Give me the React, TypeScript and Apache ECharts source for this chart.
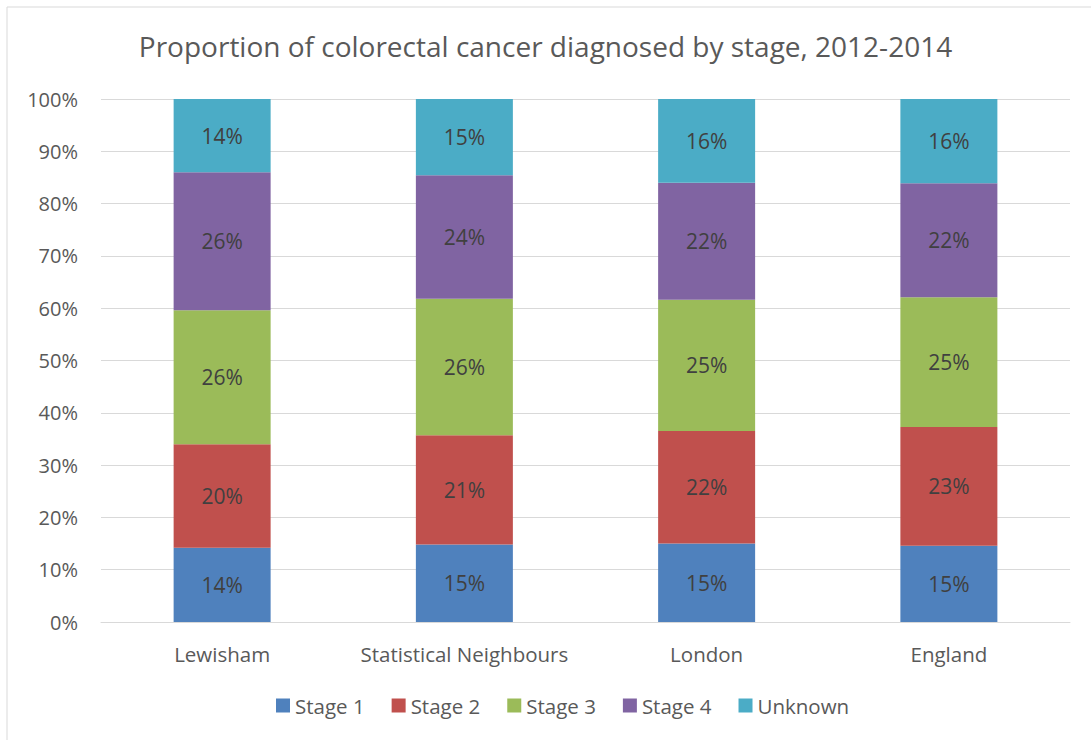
import React, { useEffect, useRef } from "react";
import * as echarts from "echarts";

const categories = ["Lewisham", "Statistical Neighbours", "London", "England"];
const stage1 = [14.2, 14.8, 15.0, 14.6];
const stage2 = [19.8, 20.9, 21.5, 22.7];
const stage3 = [25.6, 26.1, 25.1, 24.8];
const stage4 = [26.4, 23.6, 22.4, 21.8];
const unknown = [14.0, 14.6, 16.0, 16.1];
const seriesNames = ["Stage 1", "Stage 2", "Stage 3", "Stage 4", "Unknown"];
const colors = ["#4f81bd", "#c0504d", "#9bbb59", "#8064a2", "#4bacc6"];

const FONT = "'Open Sans', Lato, sans-serif";

export default function App() {
  const ref = useRef<HTMLDivElement>(null);
  useEffect(() => {
    if (!ref.current) return;
    const chart = echarts.init(ref.current, null, { renderer: "svg" });
    const data = [stage1, stage2, stage3, stage4, unknown];
    chart.setOption({
      animation: false,
      backgroundColor: "#ffffff",
      textStyle: { fontFamily: FONT },
      graphic: [
        {
          type: "rect",
          shape: { x: 7, y: 7, width: 1200, height: 900 },
          style: { fill: "none", stroke: "#d9d9d9", lineWidth: 1 },
          silent: true,
        },
      ],
      title: {
        text: "Proportion of colorectal cancer diagnosed by stage, 2012-2014",
        left: "center",
        top: 27,
        textStyle: { fontFamily: FONT, fontSize: 28, fontWeight: "normal", color: "#595959" },
      },
      legend: {
        bottom: 19,
        left: 271,
        itemWidth: 14,
        itemHeight: 14,
        itemGap: 27,
        icon: "rect",
        textStyle: { fontFamily: FONT, fontSize: 20.5, color: "#595959" },
        data: seriesNames,
      },
      grid: { left: 101, right: 21, top: 99, bottom: 118, containLabel: false },
      xAxis: {
        type: "category",
        data: categories,
        axisLine: { lineStyle: { color: "#d9d9d9", width: 1 } },
        axisTick: { show: false },
        axisLabel: {
          fontFamily: FONT,
          fontSize: 20.5,
          color: "#595959",
          margin: 21,
          interval: 0,
          hideOverlap: false,
        },
      },
      yAxis: {
        type: "value",
        min: 0,
        max: 100,
        interval: 10,
        axisLine: { show: false },
        axisTick: { show: false },
        splitLine: { lineStyle: { color: "#d9d9d9", width: 1 } },
        axisLabel: {
          fontFamily: FONT,
          fontSize: 20,
          color: "#595959",
          margin: 23,
          formatter: (v: number) => v + "%",
        },
      },
      series: seriesNames.map((name, i) => ({
        name,
        type: "bar",
        stack: "total",
        barWidth: 97,
        data: data[i],
        itemStyle: { color: colors[i] },
        label: {
          show: true,
          position: "inside",
          fontFamily: FONT,
          fontSize: 21,
          color: "#404040",
          formatter: (p: any) => Math.round(p.value) + "%",
        },
      })),
    });
    return () => chart.dispose();
  }, []);
  return (
    <div
      ref={ref}
      style={{ position: "fixed", left: 0, top: 0, width: 1091, height: 740, background: "#fff" }}
    />
  );
}
